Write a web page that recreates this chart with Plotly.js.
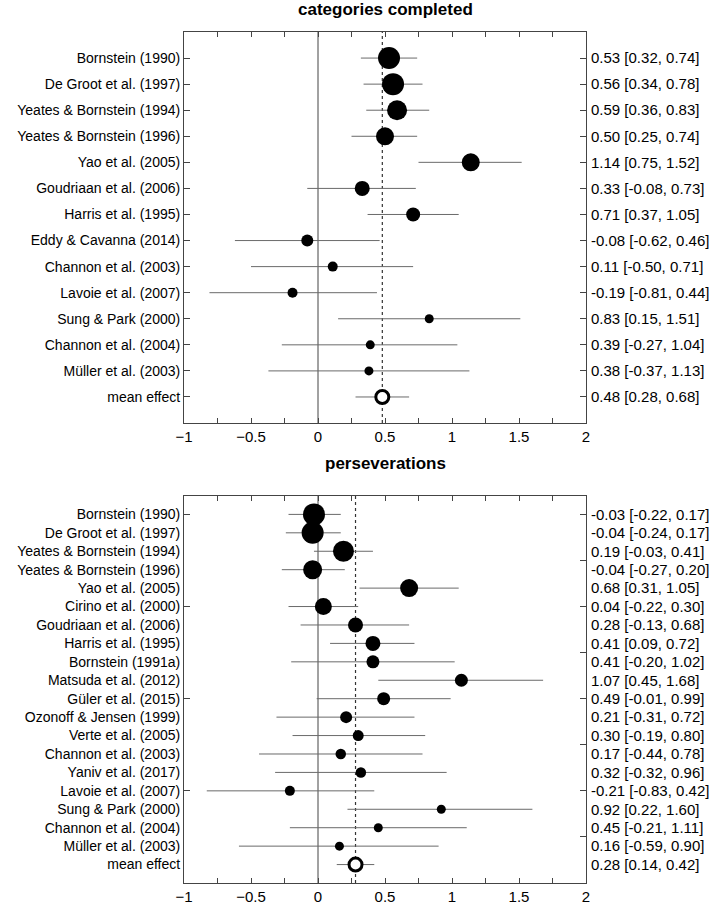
<!DOCTYPE html>
<html>
<head>
<meta charset="utf-8">
<script src="https://cdn.plot.ly/plotly-3.0.1.min.js"></script>
<style>html,body{margin:0;padding:0;background:#fff;}#chart{width:714px;height:905px;}</style>
</head>
<body>
<div id="chart"></div>
<script>
// ---------- categories completed ----------
var studiesCC = ["Bornstein (1990)", "De Groot et al. (1997)", "Yeates & Bornstein (1994)", "Yeates & Bornstein (1996)",
  "Yao et al. (2005)", "Goudriaan et al. (2006)", "Harris et al. (1995)", "Eddy & Cavanna (2014)",
  "Channon et al. (2003)", "Lavoie et al. (2007)", "Sung & Park (2000)", "Channon et al. (2004)", "Müller et al. (2003)"];
var estCC = [0.53, 0.56, 0.59, 0.50, 1.14, 0.33, 0.71, -0.08, 0.11, -0.19, 0.83, 0.39, 0.38];
var loCC  = [0.32, 0.34, 0.36, 0.25, 0.75, -0.08, 0.37, -0.62, -0.50, -0.81, 0.15, -0.27, -0.37];
var hiCC  = [0.74, 0.78, 0.83, 0.74, 1.52, 0.73, 1.05, 0.46, 0.71, 0.44, 1.51, 1.04, 1.13];
var weightCC = [22, 22, 20, 18, 18, 15, 14, 12, 10, 10, 9, 9, 9];
var meanCC = {label: "mean effect", est: 0.48, lo: 0.28, hi: 0.68};

// ---------- perseverations ----------
var studiesP = ["Bornstein (1990)", "De Groot et al. (1997)", "Yeates & Bornstein (1994)", "Yeates & Bornstein (1996)",
  "Yao et al. (2005)", "Cirino et al. (2000)", "Goudriaan et al. (2006)", "Harris et al. (1995)", "Bornstein (1991a)",
  "Matsuda et al. (2012)", "Güler et al. (2015)", "Ozonoff & Jensen (1999)", "Verte et al. (2005)",
  "Channon et al. (2003)", "Yaniv et al. (2017)", "Lavoie et al. (2007)", "Sung & Park (2000)",
  "Channon et al. (2004)", "Müller et al. (2003)"];
var estP = [-0.03, -0.04, 0.19, -0.04, 0.68, 0.04, 0.28, 0.41, 0.41, 1.07, 0.49, 0.21, 0.30, 0.17, 0.32, -0.21, 0.92, 0.45, 0.16];
var loP  = [-0.22, -0.24, -0.03, -0.27, 0.31, -0.22, -0.13, 0.09, -0.20, 0.45, -0.01, -0.31, -0.19, -0.44, -0.32, -0.83, 0.22, -0.21, -0.59];
var hiP  = [0.17, 0.17, 0.41, 0.20, 1.05, 0.30, 0.68, 0.72, 1.02, 1.68, 0.99, 0.72, 0.80, 0.78, 0.96, 0.42, 1.60, 1.11, 0.90];
var weightP = [22, 22, 21, 19, 18, 17, 15, 15, 13, 13, 13, 12, 11, 10.5, 10.5, 10, 9, 9, 9];
var meanP = {label: "mean effect", est: 0.28, lo: 0.14, hi: 0.42};

var xTicks = [-1, -0.5, 0, 0.5, 1, 1.5, 2];

function fmt(v) { return v.toFixed(2); }
function ci(e, l, h) { return fmt(e) + " [" + fmt(l) + ", " + fmt(h) + "]"; }
function rows(n) { var r = []; for (var i = 1; i <= n; i++) r.push(i); return r; }

var FONT = "Liberation Sans, Arial, sans-serif";
var LINE = "#444";
var ERR = "#6a6a6a";

function panel(names, est, lo, hi, w, mean, xa, ya) {
  var n = names.length;
  var r = rows(n);
  var studies = {
    type: "scatter", mode: "markers", x: est, y: r, xaxis: xa, yaxis: ya,
    marker: {color: "#000", size: w, opacity: 1, line: {width: 0}},
    error_x: {type: "data", symmetric: false,
      array: est.map(function (e, i) { return hi[i] - e; }),
      arrayminus: est.map(function (e, i) { return e - lo[i]; }),
      color: ERR, thickness: 1, width: 0},
    hoverinfo: "skip", showlegend: false
  };
  var m = {
    type: "scatter", mode: "markers", x: [mean.est], y: [n + 1], xaxis: xa, yaxis: ya,
    marker: {color: "#fff", size: 13, opacity: 1, line: {width: 3, color: "#000"}},
    error_x: {type: "data", symmetric: false, array: [mean.hi - mean.est], arrayminus: [mean.est - mean.lo],
      color: ERR, thickness: 1, width: 0},
    hoverinfo: "skip", showlegend: false
  };
  return [studies, m];
}

var traces = [];
// helper empty traces so overlay axes get drawn (added first so they sit underneath)
[["x2", "y3"], ["x", "y4"], ["x2", "y5"], ["x2", "y6"]].forEach(function (p) {
  traces.push({type: "scatter", mode: "markers", x: [null], y: [null], xaxis: p[0], yaxis: p[1],
    hoverinfo: "skip", showlegend: false});
});
traces = traces.concat(panel(studiesCC, estCC, loCC, hiCC, weightCC, meanCC, "x", "y"));
traces = traces.concat(panel(studiesP, estP, loP, hiP, weightP, meanP, "x2", "y2"));

var nCC = studiesCC.length + 1, nP = studiesP.length + 1;
var labelsCC = studiesCC.concat([meanCC.label]);
var labelsP = studiesP.concat([meanP.label]);
var rightCC = estCC.map(function (e, i) { return ci(e, loCC[i], hiCC[i]); }).concat([ci(meanCC.est, meanCC.lo, meanCC.hi)]);
var rightP = estP.map(function (e, i) { return ci(e, loP[i], hiP[i]); }).concat([ci(meanP.est, meanP.lo, meanP.hi)]);

var topDom = [0.5405, 1], botDom = [0, 0.4548];

function xaxis(anchor) {
  return {domain: [0, 1], anchor: anchor, range: [-1, 2], tickvals: xTicks, ticks: "inside", ticklen: 5, tickwidth: 1,
    tickcolor: LINE, showline: true, linecolor: LINE, linewidth: 1, mirror: "ticks", showgrid: false, zeroline: false,
    tickfont: {family: FONT, size: 15, color: "#000"},
    minor: {dtick: 0.25, tick0: 0, ticks: "inside", ticklen: 5, tickcolor: LINE, showgrid: false}};
}
function yLeft(anchor, dom, n, labels, tlen) {
  return {domain: dom, anchor: anchor, range: [n + 1, 0], tickmode: "array", tickvals: rows(n), ticktext: labels,
    ticks: tlen ? "inside" : "", ticklen: tlen || 0, tickcolor: LINE, showline: true, linecolor: LINE, linewidth: 1,
    mirror: true, showgrid: false, zeroline: false, tickfont: {family: FONT, size: 14, color: "#000"}};
}

var layout = {
  width: 714, height: 905, margin: {l: 184, r: 128, t: 32, b: 22},
  paper_bgcolor: "#fff", plot_bgcolor: "#fff", showlegend: false,
  xaxis: xaxis("y"),
  xaxis2: xaxis("y2"),
  yaxis: yLeft("x", topDom, nCC, labelsCC, 6),
  yaxis2: yLeft("x2", botDom, nP, labelsP, 0),
  // bottom-left ticks only
  yaxis3: {overlaying: "y2", anchor: "x2", side: "left", range: [nP + 1, 0], tickmode: "array", tickvals: [1, 6, 11, 16],
    ticks: "inside", ticklen: 6, tickcolor: LINE, showticklabels: false, showline: false, showgrid: false, zeroline: false},
  // top-right labels with ticks
  yaxis4: {overlaying: "y", anchor: "x", side: "right", range: [nCC + 1, 0], tickmode: "array", tickvals: rows(nCC),
    ticktext: rightCC, ticks: "inside", ticklen: 6, tickcolor: LINE, ticklabelstandoff: 4,
    showline: false, showgrid: false, zeroline: false,
    tickfont: {family: FONT, size: 15, color: "#000"}},
  // bottom-right labels
  yaxis5: {overlaying: "y2", anchor: "x2", side: "right", range: [nP + 1, 0], tickmode: "array", tickvals: rows(nP),
    ticktext: rightP, ticks: "", ticklabelstandoff: 4, showline: false, showgrid: false, zeroline: false,
    tickfont: {family: FONT, size: 15, color: "#000"}},
  // bottom-right ticks
  yaxis6: {overlaying: "y2", anchor: "x2", side: "right", range: [nP + 1, 0], tickmode: "array",
    tickvals: [1, 3.5, 6, 8.5, 11, 13.5, 16, 18.5], ticks: "inside", ticklen: 6, tickcolor: LINE,
    showticklabels: false, showline: false, showgrid: false, zeroline: false},
  shapes: [
    {type: "line", xref: "x", yref: "y domain", x0: 0, x1: 0, y0: 0, y1: 1, line: {color: LINE, width: 1}, layer: "below"},
    {type: "line", xref: "x", yref: "y domain", x0: meanCC.est, x1: meanCC.est, y0: 0, y1: 1, line: {color: "#333", width: 1.2, dash: "dot"}, layer: "below"},
    {type: "line", xref: "x2", yref: "y2 domain", x0: 0, x1: 0, y0: 0, y1: 1, line: {color: LINE, width: 1}, layer: "below"},
    {type: "line", xref: "x2", yref: "y2 domain", x0: meanP.est, x1: meanP.est, y0: 0, y1: 1, line: {color: "#333", width: 1.2, dash: "dot"}, layer: "below"}
  ],
  annotations: [
    {text: "<b>categories completed</b>", xref: "paper", yref: "paper", x: 0.5, y: 1.0259, xanchor: "center", yanchor: "middle",
      showarrow: false, font: {family: FONT, size: 17, color: "#000"}},
    {text: "<b>perseverations</b>", xref: "paper", yref: "paper", x: 0.5, y: 0.4935, xanchor: "center", yanchor: "middle",
      showarrow: false, font: {family: FONT, size: 17, color: "#000"}}
  ]
};

Plotly.newPlot("chart", traces, layout, {staticPlot: true, displayModeBar: false});
</script>
</body>
</html>
